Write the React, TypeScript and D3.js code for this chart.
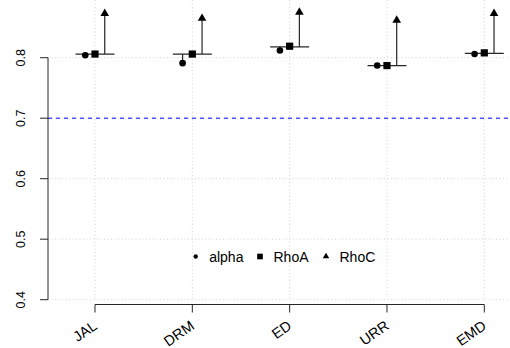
import React from "react";
import * as d3 from "d3";

const categories = ["JAL", "DRM", "ED", "URR", "EMD"];
const alpha = [0.804, 0.791, 0.812, 0.787, 0.806];
const rhoA = [0.806, 0.806, 0.819, 0.787, 0.808];
const rhoC = [0.873, 0.865, 0.875, 0.862, 0.873];
const reference = [0.806, 0.806, 0.818, 0.787, 0.807];
const yTicks = [0.4, 0.5, 0.6, 0.7, 0.8];
const threshold = 0.7;
const legendItems = ["alpha", "RhoA", "RhoC"];

const W = 510;
const H = 348;
const FONT = "'Liberation Sans', Arial, sans-serif";

export default function App() {
  const x = d3.scaleLinear().domain([1, 5]).range([95, 484.3]);
  const y = d3.scaleLinear().domain([0.4, 0.8]).range([299.7, 57.7]);
  const plotLeft = 48;
  const plotBottom = 300;
  const axisY = 304.5;
  const off = 0.1;
  const half = 0.2;
  const circle = d3.symbol().type(d3.symbolCircle).size(34)() as string;
  const square = d3.symbol().type(d3.symbolSquare).size(52)() as string;
  const tri = d3.symbol().type(d3.symbolTriangle).size(32)() as string;
  const lcircle = d3.symbol().type(d3.symbolCircle).size(15)() as string;
  const lsquare = d3.symbol().type(d3.symbolSquare).size(32)() as string;
  const ltri = d3.symbol().type(d3.symbolTriangle).size(18)() as string;
  const legendSyms = [lcircle, lsquare, ltri];
  const legendSymX = [195.7, 260, 326];
  const legendY = 256.5;
  const lineCol = "#262626";

  return (
    <svg width={W} height={H} style={{ position: "absolute", left: 0, top: 0, background: "#fff" }} fontFamily={FONT}>
      {/* grid */}
      {yTicks.map((t) => (
        <line key={"gy" + t} x1={plotLeft} x2={W} y1={y(t)} y2={y(t)} stroke="#d3d3d3" strokeWidth={1} strokeDasharray="1,2.5" />
      ))}
      {categories.map((c, i) => (
        <line key={"gx" + c} x1={x(i + 1)} x2={x(i + 1)} y1={0} y2={plotBottom} stroke="#d3d3d3" strokeWidth={1} strokeDasharray="1,2.5" />
      ))}
      {/* threshold */}
      <line x1={plotLeft} x2={W} y1={y(threshold)} y2={y(threshold)} stroke="#0000ff" strokeWidth={1} strokeDasharray="4,4" />
      {/* marks */}
      {categories.map((c, i) => {
        const cx = i + 1;
        return (
          <g key={"m" + c}>
            <line x1={x(cx - half)} x2={x(cx + half)} y1={y(reference[i])} y2={y(reference[i])} stroke={lineCol} strokeWidth={1.2} />
            <line x1={x(cx - off)} x2={x(cx - off)} y1={y(reference[i])} y2={y(alpha[i])} stroke={lineCol} strokeWidth={1.2} />
            <line x1={x(cx + off)} x2={x(cx + off)} y1={y(reference[i])} y2={y(rhoC[i])} stroke={lineCol} strokeWidth={1.2} />
            <path d={circle} transform={`translate(${x(cx - off)},${y(alpha[i])})`} fill="#000" />
            <path d={square} transform={`translate(${x(cx)},${y(rhoA[i])})`} fill="#000" />
            <path d={tri} transform={`translate(${x(cx + off)},${y(rhoC[i])})`} fill="#000" />
          </g>
        );
      })}
      {/* y axis */}
      <line x1={plotLeft} x2={plotLeft} y1={y(0.8)} y2={y(0.4)} stroke={lineCol} strokeWidth={1} />
      {yTicks.map((t) => (
        <g key={"yt" + t}>
          <line x1={plotLeft - 8} x2={plotLeft} y1={y(t)} y2={y(t)} stroke={lineCol} strokeWidth={1} />
          <text transform={`translate(${24.5},${y(t)}) rotate(-90)`} textAnchor="middle" fontSize={12.5} fill="#000">
            {t.toFixed(1)}
          </text>
        </g>
      ))}
      {/* x axis */}
      <line x1={x(1)} x2={x(5)} y1={axisY} y2={axisY} stroke={lineCol} strokeWidth={1} />
      {categories.map((c, i) => (
        <g key={"xt" + c}>
          <line x1={x(i + 1)} x2={x(i + 1)} y1={axisY} y2={axisY + 8} stroke={lineCol} strokeWidth={1} />
          <text transform={`translate(${x(i + 1) + 3},${328}) rotate(-35)`} textAnchor="end" fontSize={14.5} fill="#000">
            {c}
          </text>
        </g>
      ))}
      {/* legend */}
      {legendItems.map((l, i) => (
        <g key={"lg" + l}>
          <path d={legendSyms[i]} transform={`translate(${legendSymX[i]},${legendY})`} fill="#000" />
          <text x={legendSymX[i] + 13.5} y={legendY + 5} fontSize={14} fill="#000">
            {l}
          </text>
        </g>
      ))}
    </svg>
  );
}
